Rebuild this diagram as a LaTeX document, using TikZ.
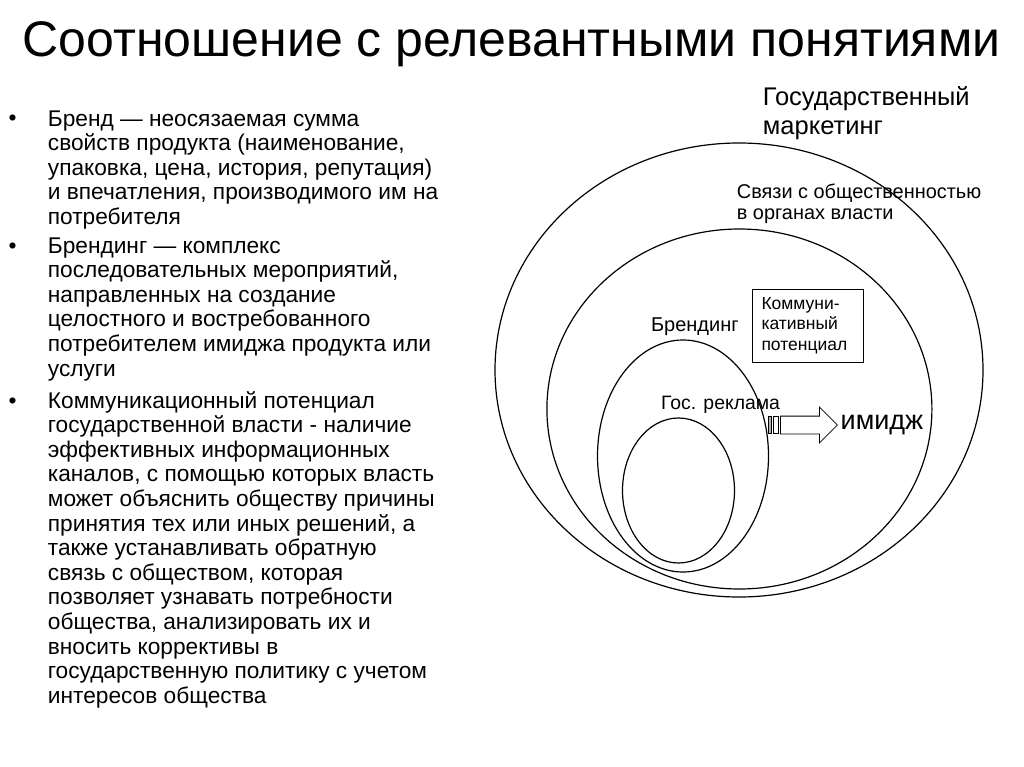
\documentclass[tikz,border=0pt]{standalone}
\usepackage{fontspec}
\setmainfont{Liberation Sans}
\usepackage{tikz}
\usetikzlibrary{positioning,shapes.geometric,shapes.arrows}
\tikzset{
    ring/.style={ellipse, draw, line width=1.2pt, inner sep=0pt},
    heading/.style={inner sep=0pt, anchor=base, font=\fontsize{50}{56}\selectfont},
    item/.style={inner sep=0pt, anchor=base west, align=left, font=\fontsize{22.7}{24.6}\selectfont},
    dot/.style={inner sep=0pt, anchor=base west, font=\fontsize{22.7}{24.6}\selectfont},
    ringlabel/.style={inner sep=0pt, anchor=base west, align=left},
    infobox/.style={rectangle, draw, line width=0.8pt, minimum width=111pt, minimum height=73pt, align=left, text width=92pt, inner xsep=9.5pt, font=\fontsize{17.5}{20.5}\selectfont},
    bigarrow/.style={single arrow, draw, line width=0.8pt, minimum height=57pt, single arrow head extend=9pt, inner sep=0pt},
    stripe/.style={rectangle, draw, line width=0.6pt, minimum height=17pt, inner sep=0pt}
}

\begin{document}
\begin{tikzpicture}[x=1pt, y=-1pt]
\useasboundingbox (0,0) rectangle (1024,767);

\node[heading] (title) at (511.5,57) {Соотношение с релевантными понятиями};

% left column (base = last line)
\node[dot] (b1) at (8.5,126) {•};
\node[item] (brand) at (47.7,224.4) {Бренд — неосязаемая сумма\\свойств продукта (наименование,\\упаковка, цена, история, репутация)\\и впечатления, производимого им на\\потребителя};
\node[dot] (b2) at (8.5,253) {•};
\node[item] (branding) at (47.7,376) {Брендинг — комплекс\\последовательных мероприятий,\\направленных на создание\\целостного и востребованного\\потребителем имиджа продукта или\\услуги};
\node[dot] (b3) at (8.5,408) {•};
\node[item] (commpot) at (47.7,703.2) {Коммуникационный потенциал\\государственной власти - наличие\\эффективных информационных\\каналов, с помощью которых власть\\может объяснить обществу причины\\принятия тех или иных решений, а\\также устанавливать обратную\\связь с обществом, которая\\позволяет узнавать потребности\\общества, анализировать их и\\вносить коррективы в\\государственную политику с учетом\\интересов общества};

% nested ellipses
\node[ring, minimum width=488pt, minimum height=454pt] (gosmark) at (739,370) {};
\node[ring, minimum width=385pt, minimum height=360pt] (pr) at (739.4,409) {};
\node[ring, minimum width=171pt, minimum height=232pt] (brandring) at (683,456) {};
\node[ring, minimum width=112pt, minimum height=145pt] (adring) at (678.5,490.5) {};

\node[ringlabel, font=\fontsize{25.5}{29}\selectfont] (gosmarklbl) at (762.7,135) {Государственный\\маркетинг};
\node[ringlabel, font=\fontsize{19.9}{21}\selectfont] (prlbl) at (736.7,219.3) {Связи с общественностью\\в органах власти};
\node[ringlabel, font=\fontsize{20}{22}\selectfont] (brandlbl) at (650.8,331) {Брендинг};
\node[ringlabel, font=\fontsize{19.4}{22}\selectfont] (adlbl) at (661,409) {Гос. реклама};

\node[infobox] (potential) at (807.5,325.5) {Коммуни-\\кативный\\потенциал};

% arrow to image
\node[bigarrow, anchor=west] (arr) at (780,425) {\rule{0pt}{17pt}};
\node[stripe, minimum width=5.5pt, left=1pt of arr] (stripeb) {};
\node[stripe, minimum width=3.5pt, fill=gray!60, left=1pt of stripeb] (stripea) {};
\node[inner sep=0pt, font=\fontsize{27}{30}\selectfont, right=2.5pt of arr] (image) {имидж};

\end{tikzpicture}
\end{document}
